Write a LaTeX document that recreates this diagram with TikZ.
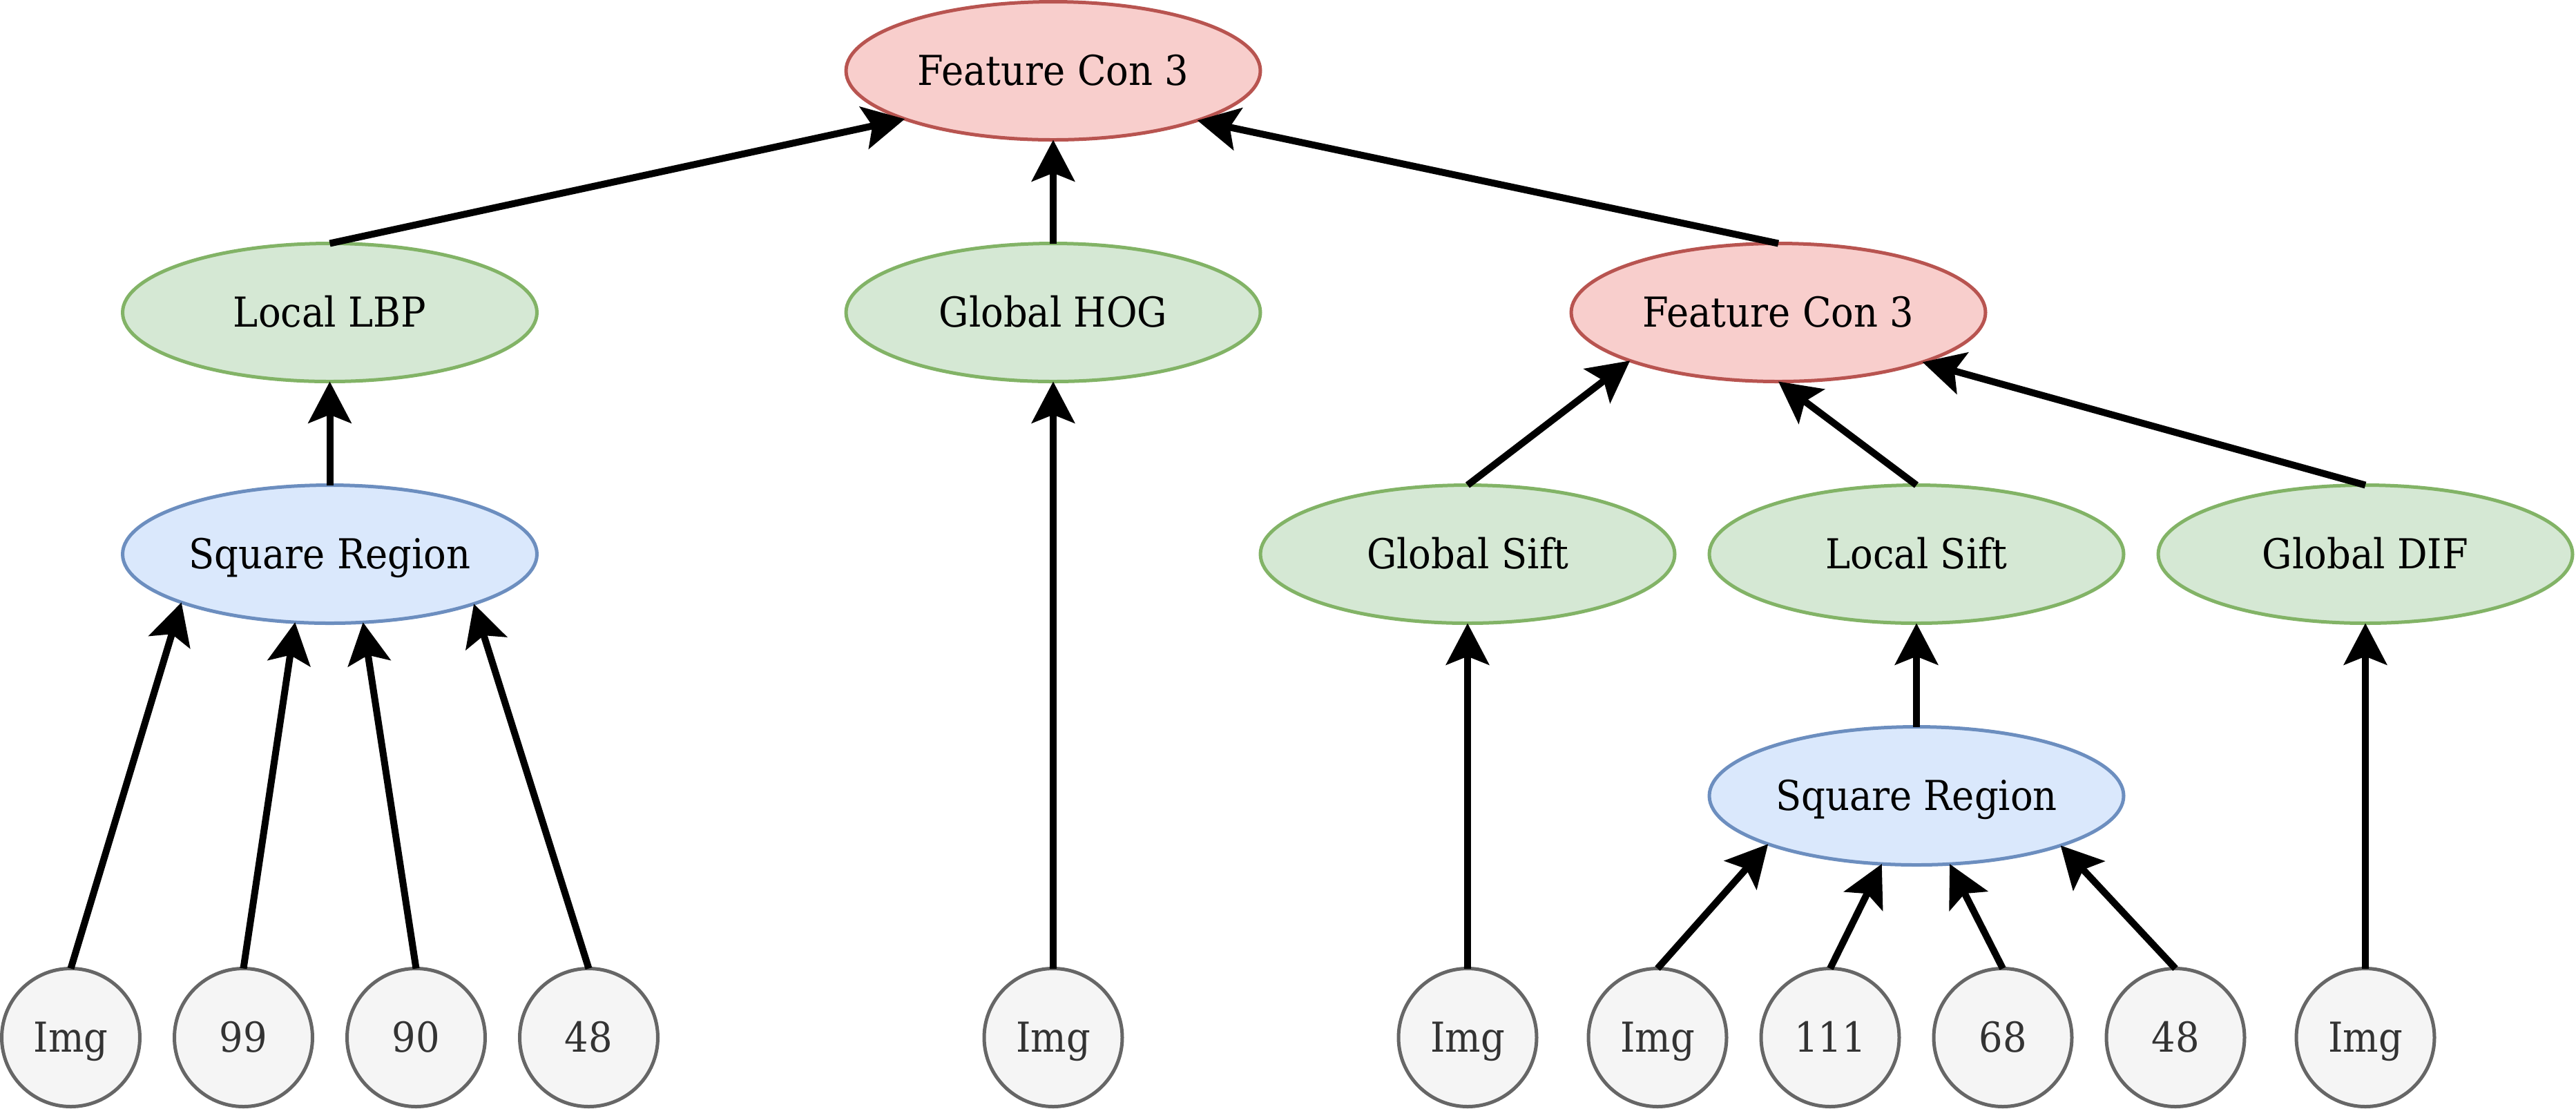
\documentclass[tikz,border=0pt]{standalone}
\usepackage{fontspec}
\usepackage{graphicx}
\setmainfont{DejaVu Serif}
\usetikzlibrary{arrows.meta,shapes.geometric}
\definecolor{redF}{HTML}{F8CECC}
\definecolor{redD}{HTML}{B85450}
\definecolor{grnF}{HTML}{D5E8D4}
\definecolor{grnD}{HTML}{82B366}
\definecolor{bluF}{HTML}{DAE8FC}
\definecolor{bluD}{HTML}{6C8EBF}
\definecolor{gryF}{HTML}{F5F5F5}
\definecolor{gryD}{HTML}{666666}
\definecolor{gryT}{HTML}{333333}
\newcommand\sx[1]{\scalebox{0.91}[1]{#1}}
\begin{document}
\begin{tikzpicture}[x=0.05cm,y=-0.05cm,
  every node/.style={font=\fontsize{17pt}{20pt}\selectfont, inner sep=0pt, outer sep=0pt,
    line width=0.05cm, text height=1.45em, text depth=0.25em},
  ell/.style={ellipse, draw, inner xsep=-1cm, inner ysep=-0.6cm, minimum width=6cm, minimum height=2cm},
  redn/.style={ell, fill=redF, draw=redD},
  grnn/.style={ell, fill=grnF, draw=grnD},
  blun/.style={ell, fill=bluF, draw=bluD},
  imgn/.style={circle, draw=gryD, fill=gryF, text=gryT, inner sep=-0.3cm, minimum size=2cm},
  conn/.style={line width=0.1cm, -{Stealth[length=0.6cm, width=0.62cm, inset=0.12cm]}}
]
\useasboundingbox (0,0) rectangle (746,321);
% level 0
\node[redn] (fc1) at (305,20.5) {\sx{Feature Con 3}};
% level 1
\node[grnn] (lbp) at (95.5,90.5) {\sx{Local LBP}};
\node[grnn] (hog) at (305,90.5) {\sx{Global HOG}};
\node[redn] (fc2) at (515,90.5) {\sx{Feature Con 3}};
% level 2
\node[blun] (sqL) at (95.5,160.5) {\sx{Square Region}};
\node[grnn] (gsift) at (425,160.5) {\sx{Global Sift}};
\node[grnn] (lsift) at (555,160.5) {\sx{Local Sift}};
\node[grnn] (gdif) at (685,160.5) {\sx{Global DIF}};
% level 3
\node[blun] (sqR) at (555,230.5) {\sx{Square Region}};
% leaves
\node[imgn] (c1) at (20.5,300.5) {\sx{Img}};
\node[imgn] (c2) at (70.5,300.5) {\sx{99}};
\node[imgn] (c3) at (120.5,300.5) {\sx{90}};
\node[imgn] (c4) at (170.5,300.5) {\sx{48}};
\node[imgn] (c5) at (305,300.5) {\sx{Img}};
\node[imgn] (c6) at (425,300.5) {\sx{Img}};
\node[imgn] (c7) at (480,300.5) {\sx{Img}};
\node[imgn] (c8) at (530,300.5) {\sx{111}};
\node[imgn] (c9) at (580,300.5) {\sx{68}};
\node[imgn] (c10) at (630,300.5) {\sx{48}};
\node[imgn] (c11) at (685,300.5) {\sx{Img}};
% connectors
\draw[conn] (lbp.north) -- (fc1.198.43);
\draw[conn] (hog.north) -- (fc1.south);
\draw[conn] (fc2.north) -- (fc1.341.57);
\draw[conn] (sqL.north) -- (lbp.south);
\draw[conn] (c1.north) -- (sqL.198.43);
\draw[conn] (c2.north) -- (sqL.243.1);
\draw[conn] (c3.north) -- (sqL.296.9);
\draw[conn] (c4.north) -- (sqL.341.57);
\draw[conn] (c5.north) -- (hog.south);
\draw[conn] (gsift.north) -- (fc2.198.43);
\draw[conn] (lsift.north) -- (fc2.south);
\draw[conn] (gdif.north) -- (fc2.341.57);
\draw[conn] (c6.north) -- (gsift.south);
\draw[conn] (sqR.north) -- (lsift.south);
\draw[conn] (c11.north) -- (gdif.south);
\draw[conn] (c7.north) -- (sqR.198.43);
\draw[conn] (c8.north) -- (sqR.243.1);
\draw[conn] (c9.north) -- (sqR.296.9);
\draw[conn] (c10.north) -- (sqR.341.57);
\end{tikzpicture}
\end{document}
